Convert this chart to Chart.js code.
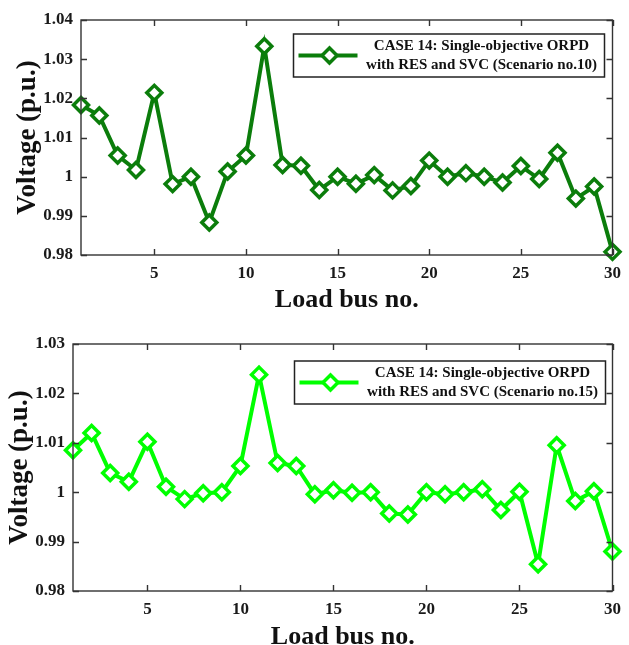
<!DOCTYPE html>
<html>
<head>
<meta charset="utf-8">
<script src="https://cdn.jsdelivr.net/npm/chart.js@4.4.1/dist/chart.umd.min.js"></script>
<style>
  html, body { margin: 0; padding: 0; background: #ffffff; }
  body { width: 629px; height: 645px; position: relative; overflow: hidden; }
  .wrap { position: absolute; left: 0; width: 629px; }
  #w1 { top: 0; height: 310px; }
  #w2 { top: 316px; height: 329px; }
</style>
</head>
<body>
<div class="wrap" id="w1"><canvas id="c1"></canvas></div>
<div class="wrap" id="w2"><canvas id="c2"></canvas></div>
<script>
// ---- data ----
const loadBuses = [1,2,3,4,5,6,7,8,9,10,11,12,13,14,15,16,17,18,19,20,21,22,23,24,25,26,27,28,29,30];
const voltageScenario10 = [1.0183,1.0156,1.0054,1.0017,1.0214,0.9981,1.0000,0.9883,1.0013,1.0054,1.0333,1.0030,1.0028,0.9966,1.0000,0.9982,1.0004,0.9965,0.9976,1.0041,1.0000,1.0009,1.0000,0.9985,1.0027,0.9994,1.0061,0.9944,0.9975,0.9808];
const voltageScenario15 = [1.0085,1.0120,1.0039,1.0021,1.0102,1.0011,0.9986,0.9998,1.0000,1.0053,1.0238,1.0059,1.0053,0.9996,1.0004,0.9999,1.0000,0.9957,0.9955,1.0000,0.9996,1.0000,1.0006,0.9964,1.0001,0.9854,1.0095,0.9982,1.0002,0.9880];
const xTickValues = [5,10,15,20,25,30];
const yTicksTop = [0.98,0.99,1.00,1.01,1.02,1.03,1.04];
const yTicksBottom = [0.98,0.99,1.00,1.01,1.02,1.03];
const legendTop = ["CASE 14: Single-objective ORPD", "with RES and SVC (Scenario no.10)"];
const legendBottom = ["CASE 14: Single-objective ORPD", "with RES and SVC (Scenario no.15)"];
const xTitle = "Load bus no.";
const yTitle = "Voltage (p.u.)";

const SERIF = "'Liberation Serif', 'DejaVu Serif', serif";

const framePlugin = {
  id: 'frameTicks',
  afterDatasetsDraw(chart) {
    const ctx = chart.ctx;
    const a = chart.chartArea;
    const xs = chart.scales.x, ys = chart.scales.y;
    const tl = 6;
    ctx.save();
    ctx.strokeStyle = '#333333';
    ctx.lineWidth = 1.4;
    ctx.strokeRect(a.left, a.top, a.right - a.left, a.bottom - a.top);
    ctx.beginPath();
    xs.ticks.forEach(t => {
      const px = Math.round(xs.getPixelForValue(t.value)) + 0.5;
      ctx.moveTo(px, a.bottom); ctx.lineTo(px, a.bottom - tl);
      ctx.moveTo(px, a.top); ctx.lineTo(px, a.top + tl);
    });
    ys.ticks.forEach(t => {
      const py = Math.round(ys.getPixelForValue(t.value)) + 0.5;
      ctx.moveTo(a.left, py); ctx.lineTo(a.left + tl, py);
      ctx.moveTo(a.right, py); ctx.lineTo(a.right - tl, py);
    });
    ctx.stroke();
    ctx.restore();
  }
};

const legendPlugin = {
  id: 'legendBox',
  afterDraw(chart, args, opts) {
    const ctx = chart.ctx;
    const a = chart.chartArea;
    const w = 311, h = 43;
    const bx = a.right - opts.rightGap - w;
    const by = a.top + opts.topGap;
    ctx.save();
    ctx.fillStyle = '#ffffff';
    ctx.fillRect(bx, by, w, h);
    ctx.strokeStyle = '#222222';
    ctx.lineWidth = 1.5;
    ctx.strokeRect(bx, by, w, h);
    const cy = by + h / 2;
    ctx.strokeStyle = opts.color;
    ctx.lineWidth = 4;
    ctx.beginPath();
    ctx.moveTo(bx + 5, cy); ctx.lineTo(bx + 64, cy);
    ctx.stroke();
    const dx = bx + 36, r = 7.5;
    ctx.beginPath();
    ctx.moveTo(dx, cy - r); ctx.lineTo(dx + r, cy); ctx.lineTo(dx, cy + r); ctx.lineTo(dx - r, cy); ctx.closePath();
    ctx.fillStyle = '#ffffff';
    ctx.fill();
    ctx.lineWidth = 3.5;
    ctx.stroke();
    ctx.fillStyle = '#111111';
    ctx.font = "bold 15px " + SERIF;
    ctx.textAlign = 'center';
    ctx.textBaseline = 'middle';
    ctx.fillText(opts.lines[0], bx + 188, by + 12, 238);
    ctx.fillText(opts.lines[1], bx + 188, by + 31, 236);
    ctx.restore();
  }
};

function makeChart(id, values, color, yMin, yMax, yTicks, legendLines, lay) {
  const points = loadBuses.map((b, i) => ({ x: b, y: values[i] }));
  return new Chart(document.getElementById(id), {
    type: 'line',
    data: {
      datasets: [{
        data: points,
        borderColor: color,
        backgroundColor: '#ffffff',
        borderWidth: 4,
        pointStyle: 'rectRot',
        pointRadius: 7.5,
        pointBorderWidth: 3.5,
        pointBackgroundColor: '#ffffff',
        pointBorderColor: color,
        tension: 0,
        clip: false
      }]
    },
    options: {
      responsive: true,
      maintainAspectRatio: false,
      animation: false,
      events: [],
      layout: { padding: { top: lay.top, right: lay.right, left: lay.left, bottom: 0 } },
      plugins: {
        legend: { display: false },
        tooltip: { enabled: false },
        legendBox: { color: color, lines: legendLines, rightGap: lay.legRight, topGap: lay.legTop }
      },
      scales: {
        x: {
          type: 'linear',
          min: 1, max: 30,
          grid: { display: false, drawTicks: false },
          border: { display: false },
          afterBuildTicks: s => { s.ticks = xTickValues.map(v => ({ value: v })); },
          afterFit: s => { s.height = lay.xHeight; },
          ticks: {
            padding: 8,
            color: '#1a1a1a',
            font: { family: SERIF, size: 17, weight: 'bold' },
            maxRotation: 0,
            callback: v => String(v)
          },
          title: {
            display: true,
            text: xTitle,
            color: '#111111',
            padding: { top: 0, bottom: 0 },
            font: { family: SERIF, size: 26, weight: 'bold', lineHeight: lay.xTitleLH }
          }
        },
        y: {
          min: yMin, max: yMax,
          grid: { display: false, drawTicks: false },
          border: { display: false },
          afterBuildTicks: s => { s.ticks = yTicks.map(v => ({ value: v })); },
          afterFit: s => { s.width = lay.yWidth; },
          ticks: {
            padding: 8,
            color: '#1a1a1a',
            font: { family: SERIF, size: 17, weight: 'bold' },
            callback: v => String(Number(v.toFixed(2)))
          },
          title: {
            display: true,
            text: yTitle,
            color: '#111111',
            padding: { top: 0, bottom: 0 },
            font: { family: SERIF, size: 27, weight: 'bold', lineHeight: 1 }
          }
        }
      }
    },
    plugins: [framePlugin, legendPlugin]
  });
}

makeChart('c1', voltageScenario10, '#0b7d0b', 0.98, 1.04, yTicksTop, legendTop,
  { top: 20, right: 16, left: 15, xHeight: 55, yWidth: 66, legRight: 8, legTop: 14, xTitleLH: 0.78 });
makeChart('c2', voltageScenario15, '#00ff00', 0.98, 1.03, yTicksBottom, legendBottom,
  { top: 28, right: 9, left: 7, xHeight: 54, yWidth: 66, legRight: 7, legTop: 17, xTitleLH: 0.62 });
</script>
</body>
</html>
